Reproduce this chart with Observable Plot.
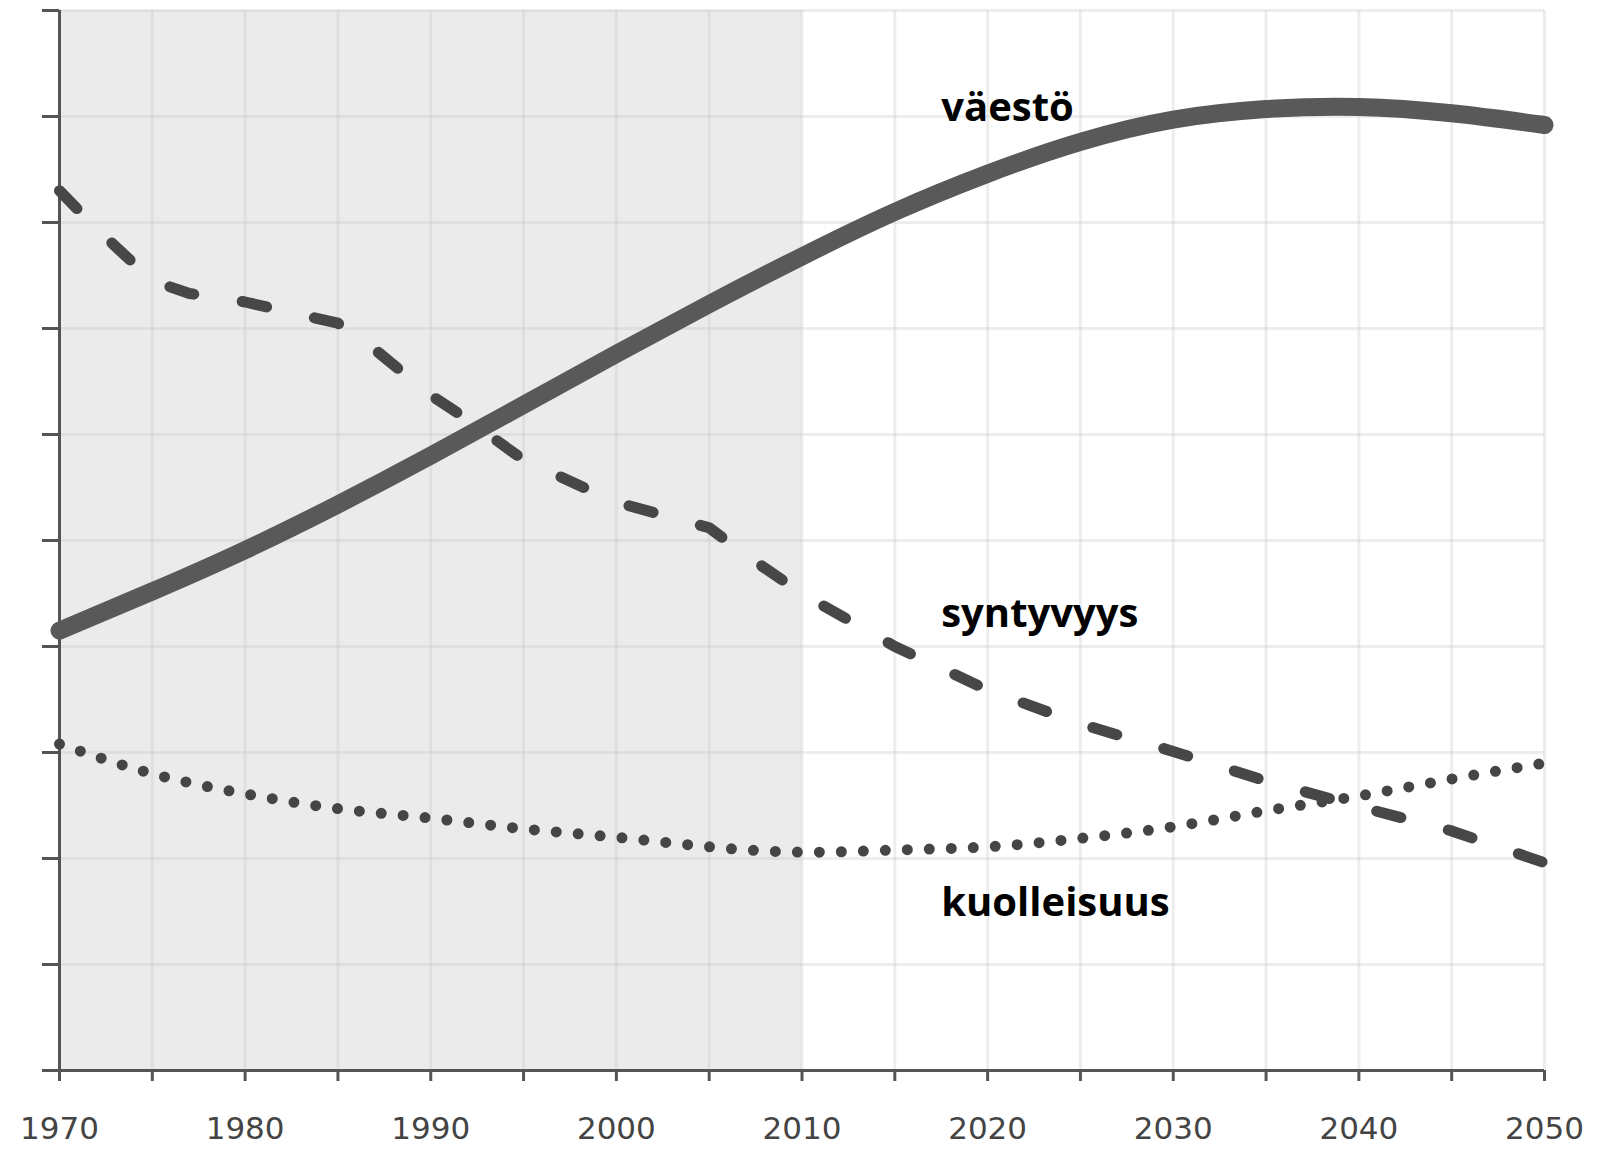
<!DOCTYPE html>
<html><head><meta charset="utf-8">
<script src="https://cdn.jsdelivr.net/npm/d3@7"></script>
<script src="https://cdn.jsdelivr.net/npm/@observablehq/plot@0.6"></script>
<style>html,body{margin:0;padding:0;background:#fff;} svg{display:block}</style>
</head><body><div id="chart"></div>
<script>
// Population (väestö) and death rate (kuolleisuus), every 5 years
const years = [1970,1975,1980,1985,1990,1995,2000,2005,2010,2015,2020,2025,2030,2035,2040,2045,2050];
const vaesto = [4.15,4.52,4.91,5.34,5.80,6.28,6.76,7.23,7.68,8.10,8.46,8.76,8.97,9.07,9.09,9.03,8.92];
const kuolleisuus = [3.08,2.80,2.61,2.47,2.38,2.28,2.20,2.11,2.06,2.08,2.11,2.19,2.30,2.45,2.59,2.75,2.90];
// Birth rate (syntyvyys) read at its bends
const syntyvyysYears = [1970,1972,1975,1977,1980,1985,1987,1990,1992,1995,1997,2000,2005,2007,2010,2015,2020,2025,2030,2035,2040,2045,2050];
const syntyvyys = [8.30,7.94,7.45,7.33,7.25,7.05,6.80,6.37,6.14,5.76,5.60,5.36,5.12,4.86,4.50,4.00,3.59,3.27,3.01,2.73,2.49,2.26,1.96];

const tickYears = d3.range(1970, 2051, 5);
const labelYears = [1970,1980,1990,2000,2010,2020,2030,2040,2050];
const yTicks = [0,1,2,3,4,5,6,7,8,9,10];
const gridValues = [1,2,3,4,5,6,7,8,9,10];
const shadedPeriod = [1970, 2010];

const seriesNames = ["väestö", "syntyvyys", "kuolleisuus"];
const nameYear = [2017.5, 2017.5, 2017.5];
const nameValue = [8.96, 4.18, 1.46];

const popData = years.map((y, i) => ({year: y, value: vaesto[i]}));
const deathData = years.map((y, i) => ({year: y, value: kuolleisuus[i]}));
const birthData = syntyvyysYears.map((y, i) => ({year: y, value: syntyvyys[i]}));
const nameData = seriesNames.map((n, i) => ({name: n, year: nameYear[i], value: nameValue[i]}));

const chart = Plot.plot({
  width: 1598,
  height: 1149,
  marginLeft: 59,
  marginRight: 54,
  marginTop: 10,
  marginBottom: 79,
  x: {domain: [1970, 2050]},
  y: {domain: [0, 10]},
  style: {fontFamily: "'Open Sans', sans-serif", background: "#fff", color: "#555"},
  marks: [
    Plot.rect([shadedPeriod], {x1: d => d[0], x2: d => d[1], y1: 0, y2: 10, fill: "#ebebeb"}),
    Plot.ruleX(tickYears, {x: d => d, y1: 0, y2: 10, stroke: "#c8c8c8", strokeOpacity: 0.32, strokeWidth: 3}),
    Plot.ruleY(gridValues, {y: d => d, x1: 1970, x2: 2050, stroke: "#c8c8c8", strokeOpacity: 0.32, strokeWidth: 3}),
    Plot.axisY({ticks: yTicks, tickSize: 17, tickFormat: () => "", label: null, strokeWidth: 3, stroke: "#555"}),
    Plot.axisX({ticks: tickYears, tickSize: 11, tickFormat: () => "", label: null, strokeWidth: 3, stroke: "#555"}),
    Plot.ruleX([1970], {y1: 0, y2: 10, stroke: "#555", strokeWidth: 3}),
    Plot.ruleY([0], {x1: 1970, x2: 2050, stroke: "#555", strokeWidth: 3}),
    Plot.text(labelYears, {x: d => d, y: 0, dy: 59, text: d => String(d), fontSize: 31, fontFamily: "'DejaVu Sans', sans-serif", fill: "#444", lineAnchor: "middle"}),
    Plot.line(deathData, {x: "year", y: "value", curve: "natural", stroke: "#454545", strokeWidth: 11, strokeLinecap: "round", strokeDasharray: "0 22"}),
    Plot.line(birthData, {x: "year", y: "value", curve: "linear", stroke: "#474747", strokeWidth: 11, strokeLinecap: "round", strokeLinejoin: "round", strokeDasharray: "25 49"}),
    Plot.line(popData, {x: "year", y: "value", curve: "natural", stroke: "#595959", strokeWidth: 18, strokeLinecap: "round"}),
    Plot.text(nameData, {x: "year", y: "value", text: "name", textAnchor: "start", lineAnchor: "bottom", fontSize: 40, fontWeight: "bold", fill: "#000"})
  ]
});
document.getElementById("chart").appendChild(chart);
</script>
</body></html>
